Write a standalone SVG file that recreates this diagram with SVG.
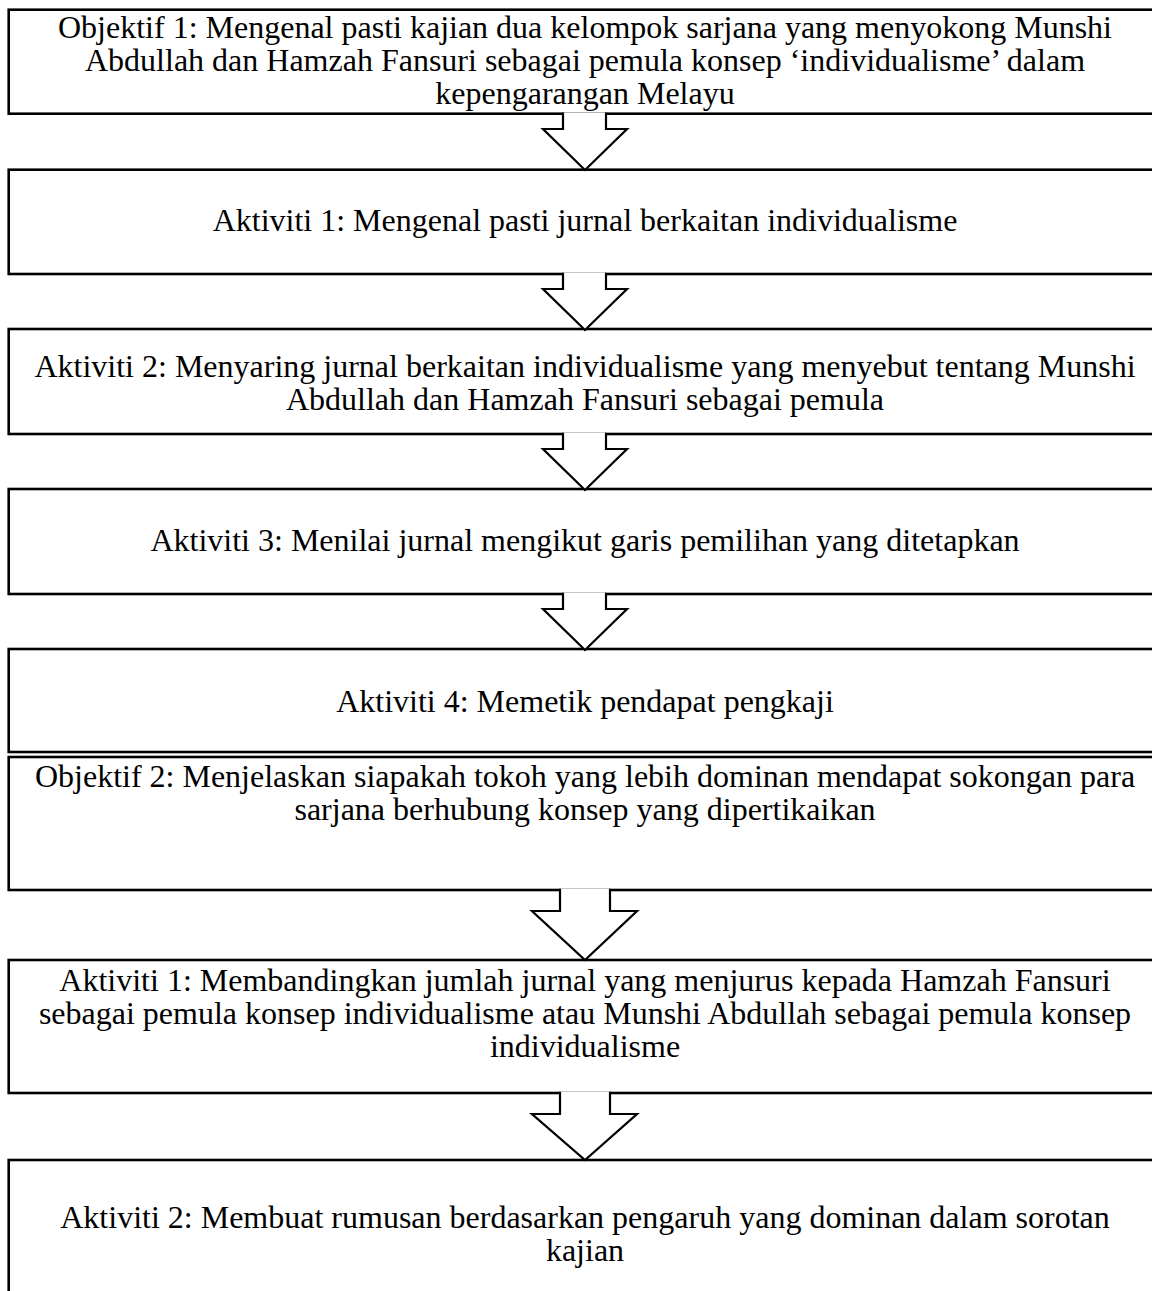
<svg xmlns="http://www.w3.org/2000/svg" width="1152" height="1291" viewBox="0 0 1152 1291">
<style>
.box{fill:#fff;stroke:#000;stroke-width:2.6}
.arr{fill:#fff;stroke:#000;stroke-width:2.2;stroke-linejoin:miter}
text{font-family:"Liberation Serif","Times New Roman",serif;font-size:32px;fill:#000;text-anchor:middle}
</style>
<rect width="1152" height="1291" fill="#fff"/>
<g id="node1"><rect class="box" x="8.7" y="9.7" width="1152" height="104"/>
<text x="585" y="38">Objektif 1: Mengenal pasti kajian dua kelompok sarjana yang menyokong Munshi</text>
<text x="585" y="71">Abdullah dan Hamzah Fansuri sebagai pemula konsep ‘individualisme’ dalam</text>
<text x="585" y="104">kepengarangan Melayu</text></g>
<g id="node2"><rect class="box" x="8.7" y="169.7" width="1152" height="104.3"/>
<text x="585" y="231">Aktiviti 1: Mengenal pasti jurnal berkaitan individualisme</text></g>
<g id="node3"><rect class="box" x="8.7" y="329" width="1152" height="105"/>
<text x="585" y="377">Aktiviti 2: Menyaring jurnal berkaitan individualisme yang menyebut tentang Munshi</text>
<text x="585" y="410">Abdullah dan Hamzah Fansuri sebagai pemula</text></g>
<g id="node4"><rect class="box" x="8.7" y="489" width="1152" height="105"/>
<text x="585" y="551">Aktiviti 3: Menilai jurnal mengikut garis pemilihan yang ditetapkan</text></g>
<g id="node5"><rect class="box" x="8.7" y="649" width="1152" height="103"/>
<text x="585" y="712">Aktiviti 4: Memetik pendapat pengkaji</text></g>
<g id="node6"><rect class="box" x="8.7" y="757" width="1152" height="133"/>
<text x="585" y="787">Objektif 2: Menjelaskan siapakah tokoh yang lebih dominan mendapat sokongan para</text>
<text x="585" y="820">sarjana berhubung konsep yang dipertikaikan</text></g>
<g id="node7"><rect class="box" x="8.7" y="960" width="1152" height="133"/>
<text x="585" y="991">Aktiviti 1: Membandingkan jumlah jurnal yang menjurus kepada Hamzah Fansuri</text>
<text x="585" y="1024">sebagai pemula konsep individualisme atau Munshi Abdullah sebagai pemula konsep</text>
<text x="585" y="1057">individualisme</text></g>
<g id="node8"><rect class="box" x="8.7" y="1160" width="1152" height="200"/>
<text x="585" y="1228">Aktiviti 2: Membuat rumusan berdasarkan pengaruh yang dominan dalam sorotan</text>
<text x="585" y="1261">kajian</text></g>
<g id="connectors">
<path class="arr" d="M563,112.5 V129 H543 L585,170 L627,129 H606 V112.5"/>
<path class="arr" d="M563,272.8 V289 H543 L585,330 L627,289 H606 V272.8"/>
<path class="arr" d="M563,432.8 V449 H543 L585,490 L627,449 H606 V432.8"/>
<path class="arr" d="M563,592.8 V609 H543 L585,650 L627,609 H606 V592.8"/>
<path class="arr" d="M560,888.8 V911 H532 L585,960 L637,911 H610 V888.8"/>
<path class="arr" d="M560,1091.8 V1114 H532 L585,1160 L637,1114 H610 V1091.8"/>
</g>
</svg>
